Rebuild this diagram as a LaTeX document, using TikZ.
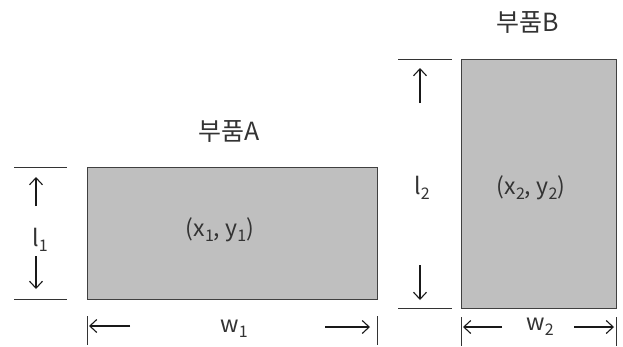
\documentclass[tikz,border=0pt]{standalone}
\usepackage{fontspec}
\setmainfont{Noto Sans CJK KR}
\usetikzlibrary{arrows.meta}
\newcommand{\mysub}[1]{\raisebox{-0.4ex}{\fontsize{16}{16}\selectfont #1}}
\tikzset{
  part/.style={draw=black!75, line width=1.2pt, fill=black!25, inner sep=0pt, anchor=north west},
  lbl/.style={text=black!80, font=\fontsize{23}{23}\selectfont, inner sep=0pt},
  ttl/.style={text=black!80, font=\fontsize{25}{25}\selectfont, inner sep=0pt},
  ext/.style={draw=black!80, line width=1pt},
  dim/.style={draw=black!90, line width=1.1pt, -{Straight Barb[length=7pt,width=13pt]}},
}
\begin{document}
\begin{tikzpicture}[x=1pt,y=-1pt]
\useasboundingbox (0,0) rectangle (623,346);
% parts
\node[part, minimum width=290pt, minimum height=132pt] (A) at (87,167) {};
\node[part, minimum width=155pt, minimum height=249pt] (B) at (461,59) {};
\node[ttl] (tA) at (229,131) {부품A};
\node[ttl] (tB) at (528,22) {부품B};
\node[lbl] (cA) at (220,230) {(x\mysub{1}, y\mysub{1})};
\node[lbl] (cB) at (531,188) {(x\mysub{2}, y\mysub{2})};
% l1
\coordinate (l1a) at (14,167); \coordinate (l1b) at (67,167);
\coordinate (l1c) at (14,299); \coordinate (l1d) at (67,299);
\draw[ext] (l1a) -- (l1b); \draw[ext] (l1c) -- (l1d);
\node[lbl] (l1) at (40,240) {l\mysub{1}};
\coordinate (l1u0) at (36,206); \coordinate (l1u1) at (36,177);
\coordinate (l1d0) at (36,256); \coordinate (l1d1) at (36,289);
\draw[dim] (l1u0) -- (l1u1); \draw[dim] (l1d0) -- (l1d1);
% l2
\coordinate (l2a) at (398,59); \coordinate (l2b) at (452,59);
\coordinate (l2c) at (398,308); \coordinate (l2d) at (452,308);
\draw[ext] (l2a) -- (l2b); \draw[ext] (l2c) -- (l2d);
\node[lbl] (l2) at (422,188) {l\mysub{2}};
\coordinate (l2u0) at (420,103); \coordinate (l2u1) at (420,68);
\coordinate (l2d0) at (420,265); \coordinate (l2d1) at (420,300);
\draw[dim] (l2u0) -- (l2u1); \draw[dim] (l2d0) -- (l2d1);
% w1
\coordinate (w1a) at (87,316); \coordinate (w1b) at (87,345);
\coordinate (w1c) at (377,316); \coordinate (w1d) at (377,345);
\draw[ext] (w1a) -- (w1b); \draw[ext] (w1c) -- (w1d);
\node[lbl] (w1) at (234,329) {w\mysub{1}};
\coordinate (w1l0) at (130,326); \coordinate (w1l1) at (89,326);
\coordinate (w1r0) at (325,327); \coordinate (w1r1) at (370,327);
\draw[dim] (w1l0) -- (w1l1); \draw[dim] (w1r0) -- (w1r1);
% w2
\coordinate (w2a) at (461,317); \coordinate (w2b) at (461,346);
\coordinate (w2c) at (616,317); \coordinate (w2d) at (616,346);
\draw[ext] (w2a) -- (w2b); \draw[ext] (w2c) -- (w2d);
\node[lbl] (w2) at (540,327) {w\mysub{2}};
\coordinate (w2l0) at (502,327); \coordinate (w2l1) at (463,327);
\coordinate (w2r0) at (574,327); \coordinate (w2r1) at (614,327);
\draw[dim] (w2l0) -- (w2l1); \draw[dim] (w2r0) -- (w2r1);
\end{tikzpicture}
\end{document}
